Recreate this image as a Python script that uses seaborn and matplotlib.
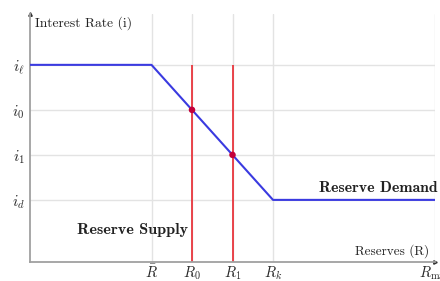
import matplotlib
matplotlib.use("Agg")
import matplotlib.pyplot as plt
import seaborn as sns
import pandas as pd

# Data
x_ticks = [3, 4, 5, 6, 10]
x_tick_labels = [r"$\bar{R}$", r"$R_0$", r"$R_1$", r"$R_k$", r"$R_{\max}$"]
y_ticks = [4, 3, 2, 1]
y_tick_labels = [r"$i_\ell$", r"$i_0$", r"$i_1$", r"$i_d$"]
demand_x = [0, 3, 6, 10]
demand_y = [4, 4, 1, 1]
supply_x = [4, 5]
points_x = [4, 5]
points_y = [3, 2]

sns.set_theme(style="white")
plt.rcParams["mathtext.fontset"] = "cm"
plt.rcParams["font.family"] = ["DejaVu Serif"]
plt.rcParams["axes.unicode_minus"] = False

fig = plt.figure(figsize=(4.4, 2.81), dpi=100)
ax = fig.add_axes([30/440, 1-262/281, 405/440, 248/281])
ax.set_xlim(0, 10)
ax.set_ylim(-0.38, 5.13)

grid_c = "#e3e3e3"
for xv in x_ticks:
    ax.axvline(xv, color=grid_c, lw=1, zorder=0)
for yv in y_ticks:
    ax.axhline(yv, color=grid_c, lw=1, zorder=0)

df = pd.DataFrame({"x": demand_x, "y": demand_y})
sns.lineplot(data=df, x="x", y="y", color="#3a3ae0", lw=1.5, ax=ax, sort=False, zorder=3)

ax.vlines(supply_x, -0.38, 4, color="#e8262e", lw=1.2, zorder=2)
pts = pd.DataFrame({"x": points_x, "y": points_y})
sns.scatterplot(data=pts, x="x", y="y", color="#c3003a", s=22, edgecolor="none", ax=ax, zorder=4)

ax.set_xticks(x_ticks)
ax.set_xticklabels(x_tick_labels, fontsize=10.5)
ax.set_yticks(y_ticks)
ax.set_yticklabels(y_tick_labels, fontsize=11)
ax.tick_params(axis="x", length=0, pad=1.5)
ax.tick_params(axis="y", length=0, pad=4)
ax.set_xlabel("")
ax.set_ylabel("")

for s in ["top", "right"]:
    ax.spines[s].set_visible(False)
for s in ["left", "bottom"]:
    ax.spines[s].set_color("#a0a0a0")
    ax.spines[s].set_linewidth(1.3)
ax.plot([0], [5.13], marker="^", color="#333333", ms=2.5, clip_on=False)
ax.plot([10], [-0.38], marker=">", color="#333333", ms=2.5, clip_on=False)

labels = [
    (ax.text(0.12, 4.93, "Interest Rate (i)", family="cmr10", fontsize=10, ha="left", va="center", color="#222222"), 97),
    (ax.text(9.85, -0.13, "Reserves (R)", family="cmr10", fontsize=10, ha="right", va="center", color="#222222"), 75),
    (ax.text(10.05, 1.27, "Reserve Demand", family="cmb10", fontsize=11, ha="right", va="center", color="#222222"), 118),
    (ax.text(1.16, 0.33, "Reserve Supply", family="cmb10", fontsize=11, ha="left", va="center", color="#222222"), 111),
]
r = fig.canvas.get_renderer()
for _ in range(3):
    for t, w in labels:
        cur = t.get_window_extent(renderer=r).width
        t.set_fontsize(t.get_fontsize() * w / cur)

fig.savefig("out.png", dpi=100)
